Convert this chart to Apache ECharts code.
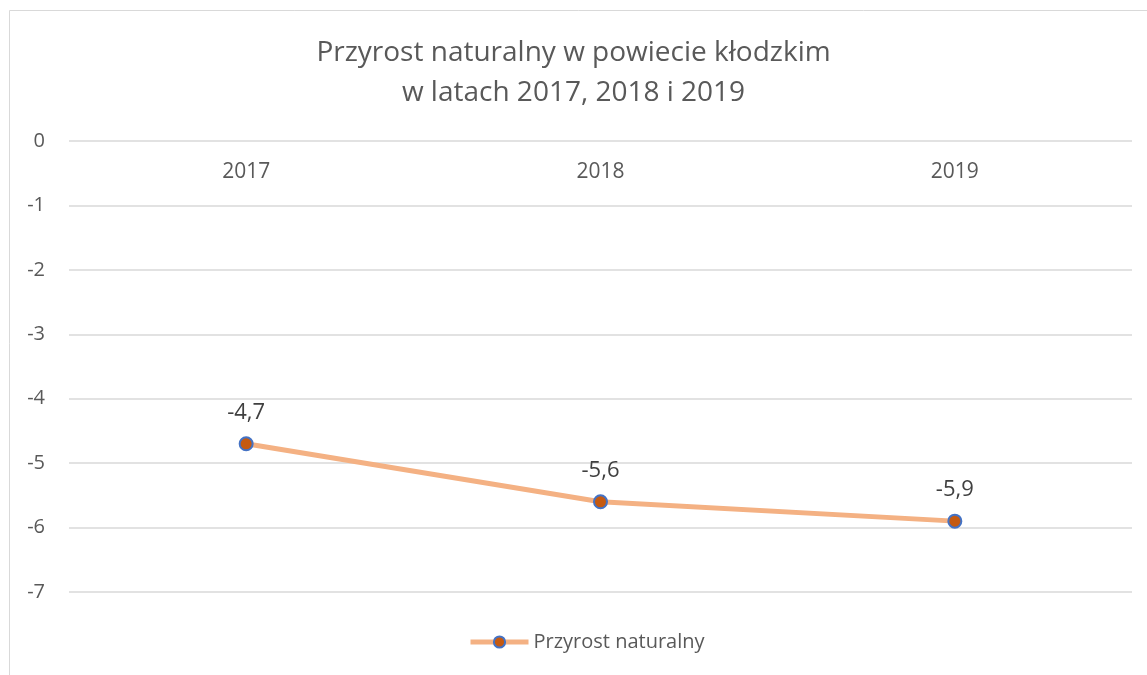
<!DOCTYPE html>
<html>
<head>
<meta charset="utf-8">
<script src="https://cdn.jsdelivr.net/npm/echarts@6/dist/echarts.min.js"></script>
<style>
  html, body { margin: 0; padding: 0; background: #fff; }
  #main { width: 1147px; height: 675px; }
</style>
</head>
<body>
<div id="main"></div>
<script>
// dane
var years = ['2017', '2018', '2019']
var przyrost = [-4.7, -5.6, -5.9]
var seriesName = 'Przyrost naturalny'
var chartTitle = 'Przyrost naturalny w powiecie kłodzkim\nw latach 2017, 2018 i 2019'

var font = '"Open Sans", "Noto Sans", sans-serif'

var option = {
  backgroundColor: '#fff',
  animation: false,
  textStyle: { fontFamily: font },
  title: {
    text: chartTitle,
    left: 'center',
    top: 28,
    textStyle: { color: '#595959', fontSize: 28, fontWeight: 'normal', lineHeight: 40, fontFamily: font }
  },
  graphic: [
    {
      type: 'rect',
      shape: { x: 9.5, y: 10.5, width: 1300, height: 800 },
      style: { fill: 'none', stroke: '#d9d9d9', lineWidth: 1 },
      silent: true
    }
  ],
  legend: {
    data: [seriesName],
    bottom: 18,
    left: 463,
    itemWidth: 58,
    itemHeight: 14,
    itemGap: 4,
    lineStyle: { width: 5, color: '#F4B183' },
    textStyle: { color: '#595959', fontSize: 20, fontFamily: font }
  },
  grid: {
    left: 69,
    right: 15,
    top: 141,
    height: 451,
    containLabel: false
  },
  xAxis: {
    type: 'category',
    position: 'top',
    data: years,
    boundaryGap: true,
    axisLine: { show: false },
    axisTick: { show: false },
    axisLabel: { inside: true, margin: 21, color: '#595959', fontSize: 21, fontFamily: font }
  },
  yAxis: {
    type: 'value',
    min: -7,
    max: 0,
    interval: 1,
    axisLine: { show: false },
    axisTick: { show: false },
    axisLabel: { color: '#595959', fontSize: 20, margin: 24, fontFamily: font },
    splitLine: { lineStyle: { color: '#d9d9d9', width: 1.5 } }
  },
  series: [
    {
      name: seriesName,
      type: 'line',
      data: przyrost,
      lineStyle: { color: '#F4B183', width: 5 },
      itemStyle: { color: '#C55A11', borderColor: '#4472C4', borderWidth: 2 },
      symbol: 'circle',
      symbolSize: 13,
      label: {
        show: true,
        position: 'top',
        distance: 13,
        color: '#404040',
        fontSize: 22,
        fontFamily: font,
        formatter: function (p) { return String(p.value).replace('.', ',') }
      }
    }
  ]
}

var myChart = echarts.init(document.getElementById('main'))
myChart.setOption(option)
</script>
</body>
</html>
